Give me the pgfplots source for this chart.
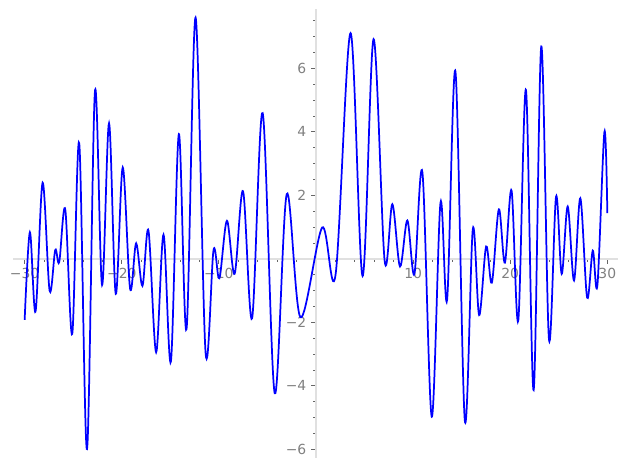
\documentclass[border=0pt]{standalone}
\usepackage{fontspec}
\setmainfont{DejaVu Sans}
\usepackage{pgfplots}
\pgfplotsset{compat=1.18}
\begin{document}
\begin{tikzpicture}
\useasboundingbox (-9.36pt,-7.2pt) rectangle (442.08pt,329.76pt);
\begin{axis}[
 at={(0,0)}, anchor=south west,
 scale only axis, width=435.6pt, height=323.3pt,
 xmin=-31.2, xmax=31.1, ymin=-6.27, ymax=7.87,
 axis lines=middle,
 axis line style={-, draw=black!12, line width=1pt},
 xtick={-30,-20,-10,10,20,30},
 xticklabels={−30,−20,−10,10,20,30},
 minor xtick={-28,-26,-24,-22,-18,-16,-14,-12,-8,-6,-4,-2,2,4,6,8,12,14,16,18,22,24,26,28},
 ytick={-6,-4,-2,2,4,6},
 yticklabels={−6,−4,−2,2,4,6},
 minor ytick={-5.5,-5,-4.5,-3.5,-3,-2.5,-1.5,-1,-0.5,0.5,1,1.5,2.5,3,3.5,4.5,5,5.5,6.5,7,7.5},
 tick align=outside,
 major tick length=3.5pt, minor tick length=2pt,
 every tick/.append style={black!60, line width=0.6pt},
 tick label style={font=\fontsize{10}{12}\selectfont, text=black!50},
 clip=false,
]
\addplot[blue, line width=1.25pt, smooth, tension=0.55] coordinates {
(-30.0,-1.92) (-29.46,0.84) (-28.88,-1.66) (-28.15,2.40) (-27.43,-1.00)
(-26.85,0.28) (-26.44,-0.10) (-25.82,1.56) (-25.10,-2.36) (-24.38,3.64)
(-23.58,-5.99) (-22.76,5.28) (-22.03,-0.82) (-21.31,4.27) (-20.62,-1.10)
(-19.90,2.88) (-19.14,-0.94) (-18.52,0.49) (-17.87,-0.85) (-17.25,0.89)
(-16.46,-2.94) (-15.70,0.76) (-14.94,-3.23) (-14.12,3.93) (-13.33,-2.21)
(-12.40,7.60) (-11.37,-2.95) (-10.55,0.28) (-9.95,-0.61) (-9.17,1.20)
(-8.38,-0.47) (-7.51,2.13) (-6.58,-1.87) (-5.49,4.59) (-4.25,-4.23)
(-3.01,2.04) (-1.60,-1.84) (0.64,0.99) (2.01,-0.51) (3.56,7.11)
(4.80,-0.54) (5.93,6.92) (7.07,-0.06) (7.86,1.72) (8.65,-0.24)
(9.41,1.21) (10.13,-0.48) (10.96,2.72) (11.92,-4.97) (12.82,1.77)
(13.50,-1.29) (14.36,5.90) (15.33,-5.10) (16.15,0.94) (16.80,-1.77)
(17.52,0.39) (18.11,-0.75) (18.83,1.56) (19.45,-0.12) (20.14,2.15)
(20.83,-1.94) (21.62,5.32) (22.41,-4.13) (23.20,6.69) (23.99,-2.53)
(24.72,1.96) (25.30,-0.47) (25.92,1.65) (26.57,-0.68) (27.22,1.91)
(27.92,-1.22) (28.50,0.26) (28.98,-0.82) (29.70,4.00) (30.0,1.44)
};
\end{axis}
\end{tikzpicture}
\end{document}
